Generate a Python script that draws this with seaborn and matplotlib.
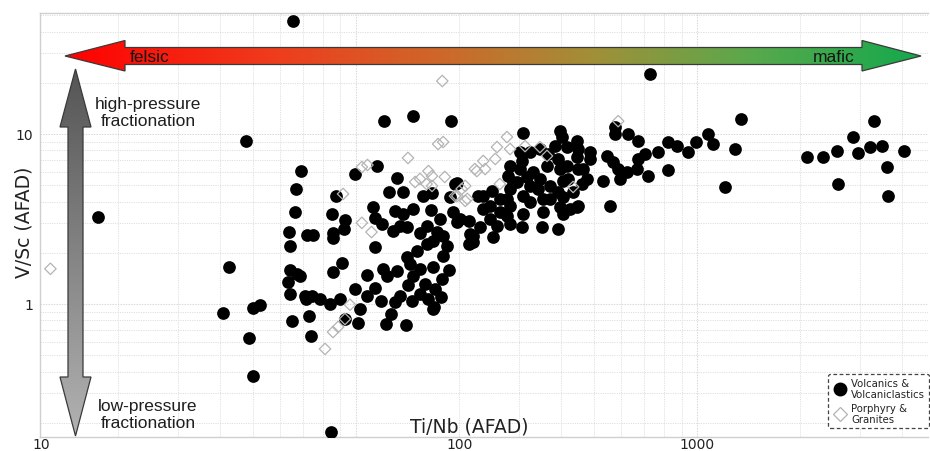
import numpy as np
import pandas as pd
import matplotlib
matplotlib.use("Agg")
import matplotlib.pyplot as plt
import matplotlib.transforms as mtransforms
from matplotlib.colors import LinearSegmentedColormap
from matplotlib.patches import Polygon
from matplotlib.lines import Line2D
from matplotlib.ticker import LogLocator, NullFormatter
import seaborn as sns

# ---------------- data ----------------
volc_tinb = [65.3, 17.5, 47.6, 42.4, 40.7, 49.9, 52.3, 48.6, 49.9, 84.5, 728,
             69.0, 66.7, 66.2, 63.6, 64.0, 71.8, 74.8, 64.0, 67.1, 68.5, 63.1, 64.0, 70.9, 74.3, 64.9, 72.8, 73.8, 71.3,
             121, 147, 190, 99.3, 115, 87.4, 85.0, 92.8, 92.2, 85.6,
             85.6, 91.0, 85.6, 112, 114, 119, 132, 125, 137, 130,
             137, 147, 157, 167, 166, 198, 193, 202, 214, 228,
             128, 135, 141, 154, 161, 173, 168, 180, 185, 161,
             151, 114, 141, 144, 154, 168, 180, 187, 220, 214,
             108, 120, 123, 132, 147,
             89.8, 92.8, 101, 103, 108, 114, 118, 122, 127, 130,
             135, 142, 146, 140, 154, 159, 163, 168, 170, 179,
             177, 169, 83.9, 78.4, 99.3,
             309, 397, 402, 575, 575, 628, 672, 545, 567, 587,
             624, 595, 667, 672, 704, 718, 769, 822, 874, 822,
             942, 994, 1077, 1114, 1208, 556, 445, 530, 486, 445,
             448, 460, 416, 405, 391, 397, 391, 351, 354, 309,
             307, 283, 252, 231, 216, 220, 198, 176, 195,
             236, 251, 264, 283, 264, 279, 283, 303, 307, 324,
             346, 366, 383, 390, 416, 448, 486, 445, 463, 476,
             419, 363, 330, 324, 297, 342, 371, 309, 324, 371,
             405, 433, 354, 283, 247, 236, 277, 448, 424, 405,
             277, 346, 317, 303, 397, 247, 259, 289, 189,
             1346, 1293, 2103, 2342, 2574, 2591, 2869, 2966, 3217, 3305, 3489, 3608, 3633, 4047]
volc_vsc = [46.2, 3.25, 9.1, 1.65, 0.886, 0.95, 0.99, 0.63, 0.377, 0.177, 22.5,
            6.05, 4.75, 3.48, 2.65, 2.20, 2.55, 2.55, 1.59, 1.50, 1.46, 1.35, 1.14, 1.11, 1.12, 0.79, 0.85, 0.65, 1.07,
            11.9, 12.8, 11.9, 5.82, 6.48, 4.32, 3.39, 3.12, 2.76, 2.62,
            2.44, 1.74, 1.54, 3.72, 3.20, 2.96, 5.51, 4.56, 4.56, 3.52,
            3.39, 3.62, 4.32, 4.50, 3.57, 5.15, 3.48, 3.16, 3.08, 4.32,
            2.69, 2.88, 2.84, 2.62, 2.88, 2.65, 2.35, 2.51, 2.20, 2.26,
            2.05, 2.17, 1.89, 1.72, 1.61, 1.65, 1.92, 1.59, 2.51, 2.26,
            1.48, 1.61, 1.46, 1.57, 1.46,
            1.07, 0.816, 0.774, 0.935, 1.11, 1.25, 1.04, 0.763, 0.874, 1.03,
            1.12, 1.29, 1.04, 0.753, 1.14, 1.31, 1.07, 0.935, 1.23, 1.40,
            1.10, 0.96, 1.00, 1.07, 1.23,
            10.1, 10.4, 9.6, 11.0, 10.0, 10.0, 9.10, 7.43, 6.84, 6.22,
            5.98, 5.44, 6.22, 7.13, 7.63, 5.66, 7.84, 8.97, 8.49, 6.14,
            7.84, 8.97, 10.0, 8.73, 4.88, 3.77, 3.72, 5.29, 7.84, 9.10,
            6.22, 5.08, 6.48, 5.29, 4.56, 3.72, 2.76, 2.84, 3.48, 3.39,
            2.84, 2.96, 2.48, 2.84, 2.58, 2.32, 3.04, 3.16, 5.08,
            4.32, 4.62, 4.15, 3.77, 3.48, 5.66, 6.48, 7.84, 6.94, 7.84,
            8.16, 7.63, 8.49, 7.13, 8.38, 8.16, 7.13, 7.33, 6.22, 5.44,
            5.44, 6.48, 5.98, 4.95, 5.22, 4.75, 4.95, 4.32, 3.99, 4.15,
            4.26, 4.56, 4.15, 4.75, 3.77, 3.62, 4.15, 3.77, 3.62, 3.39,
            3.30, 5.44, 5.59, 6.22, 6.22, 3.16, 2.88, 5.22, 4.26,
            12.2, 8.16, 7.33, 7.33, 7.94, 5.08, 9.6, 7.73, 8.38, 11.9, 8.49, 6.39, 4.32, 7.94]

porph_tinb = [12.7, 179, 587, 174, 180, 142, 104, 108, 91.6, 104, 111, 149, 154, 163, 167,
              182, 161, 167, 195, 209, 223, 209, 277, 259, 283, 256, 226, 239, 236, 264,
              363, 346, 313, 198, 212, 204, 433, 81.1, 85.6, 88.6, 92.8, 96.0]
porph_vsc = [1.61, 20.5, 11.9, 8.73, 8.97, 7.23, 6.39, 6.57, 4.44, 3.00, 2.65, 5.22, 5.44, 6.05, 5.66,
             5.59, 5.08, 4.95, 4.32, 4.95, 6.22, 4.04, 9.6, 8.38, 8.16, 7.13, 6.05, 6.22, 6.94, 5.08,
             7.43, 8.38, 8.49, 4.32, 4.15, 4.75, 4.88, 0.544, 0.684, 0.733, 0.816, 0.99]

series_names = ["Volcanics &\nVolcaniclastics", "Porphyry &\nGranites"]
x_tick_values = [100, 1000]
x_tick_labels = ["10", "100", "1000"]
x_tick_label_at = [11.96, 201.8, 1000]
y_tick_values = [1, 10]
y_tick_labels = ["1", "10"]
x_limits = (11.84, 4753)
y_limits = (0.165, 51.5)

# ---------------- styling ----------------
sns.set_theme(style="white")
plt.rcParams["font.family"] = ["DejaVu Sans"]

W, H = 930, 452
fig = plt.figure(figsize=(W / 100, H / 100), dpi=100)
fig.patch.set_facecolor("white")
L, R, T, B = 40, 928, 14, 438
ax = fig.add_axes([L / W, 1 - B / H, (R - L) / W, (B - T) / H])
ax.set_facecolor("white")

df_v = pd.DataFrame({"TiNb": volc_tinb, "VSc": volc_vsc})
df_p = pd.DataFrame({"TiNb": porph_tinb, "VSc": porph_vsc})

ax.set_xscale("log")
ax.set_yscale("log")

sns.scatterplot(data=df_v, x="TiNb", y="VSc", ax=ax, color="black", edgecolor="black",
                linewidth=0, s=84, marker="o", legend=False, zorder=3)
sns.scatterplot(data=df_p, x="TiNb", y="VSc", ax=ax, color="none", edgecolor="#b4b4b4",
                linewidth=0.9, s=34, marker="D", legend=False, zorder=4)

ax.set_xlim(*x_limits)
ax.set_ylim(*y_limits)

for axis in (ax.xaxis, ax.yaxis):
    axis.set_minor_locator(LogLocator(base=10, subs=np.arange(2, 10)))
    axis.set_minor_formatter(NullFormatter())
ax.grid(which="major", color="#d6d6d6", linestyle=(0, (1.2, 1.2)), linewidth=0.8, zorder=0)
ax.grid(which="minor", color="#e0e0e0", linestyle=(0, (1.2, 1.2)), linewidth=0.7, zorder=0)
ax.set_axisbelow(True)

ax.set_xticks(x_tick_values)
ax.set_xticklabels([""] * len(x_tick_values))
ax.set_yticks(y_tick_values)
ax.set_yticklabels(y_tick_labels)
ax.tick_params(axis="both", which="major", direction="out", length=3.5, width=0.8,
               color="#b0b0b0", labelsize=10, labelcolor="#222222", pad=1.5)
ax.tick_params(axis="both", which="minor", length=0)
ax.set_xlabel("")
ax.set_ylabel("")

blend = mtransforms.blended_transform_factory(ax.transData, ax.transAxes)
for pos, lab in zip(x_tick_label_at, x_tick_labels):
    ax.text(pos, -7.0 / (B - T), lab, transform=blend, ha="center", va="center",
            fontsize=10, color="#222222", clip_on=False)

for side in ("top", "left", "bottom"):
    ax.spines[side].set_color("#cfcfcf")
    ax.spines[side].set_linewidth(1.0)
ax.spines["right"].set_visible(False)

# ---------------- overlay (annotations in pixel space) ----------------
ov = fig.add_axes([0, 0, 1, 1], zorder=5)
ov.patch.set_alpha(0)
ov.axis("off")

# horizontal felsic -> mafic arrow
h_pts = [(65, 57), (125, 41.5), (125, 48.5), (862, 48.5), (862, 41.5), (921, 57),
         (862, 72), (862, 65.5), (125, 65.5), (125, 72)]
h_cmap = LinearSegmentedColormap.from_list(
    "fm", [(0.0, "#ff0000"), (0.25, "#ee3e1e"), (0.45, "#cc6a2a"),
           (0.62, "#a09038"), (0.8, "#5aa84c"), (1.0, "#14a94c")])
grad_h = np.linspace(0, 1, 512).reshape(1, -1)
im_h = ov.imshow(grad_h, extent=(65, 921, 72, 41.5), cmap=h_cmap, aspect="auto",
                 origin="upper", interpolation="bilinear")
poly_h = Polygon(h_pts, closed=True, facecolor="none", edgecolor="#3a3a3a", linewidth=0.9)
ov.add_patch(poly_h)
im_h.set_clip_path(poly_h)

# vertical pressure arrow
v_pts = [(75.5, 70), (91, 128), (83, 128), (83, 378), (91, 378), (75.5, 437),
         (60, 378), (68, 378), (68, 128), (60, 128)]
v_cmap = LinearSegmentedColormap.from_list("pr", ["#555555", "#b2b2b2"])
grad_v = np.linspace(0, 1, 512).reshape(-1, 1)
im_v = ov.imshow(grad_v, extent=(60, 91, 437, 70), cmap=v_cmap, aspect="auto",
                 origin="upper", interpolation="bilinear")
poly_v = Polygon(v_pts, closed=True, facecolor="none", edgecolor="#3a3a3a", linewidth=0.9)
ov.add_patch(poly_v)
im_v.set_clip_path(poly_v)

ov.set_xlim(0, W)
ov.set_ylim(H, 0)

ann_font = ["Liberation Sans", "DejaVu Sans"]
ov.text(130, 57.5, "felsic", ha="left", va="center", fontsize=12.5, family=ann_font, color="#151515")
ov.text(813, 57.5, "mafic", ha="left", va="center", fontsize=12.5, family=ann_font, color="#151515")
ov.text(148, 113, "high-pressure\nfractionation", ha="center", va="center", fontsize=12.5,
        family=ann_font, color="#1e1e1e", linespacing=1.15)
ov.text(148, 415, "low-pressure\nfractionation", ha="center", va="center", fontsize=12.5,
        family=ann_font, color="#1e1e1e", linespacing=1.15)

ov.text(469, 427, "Ti/Nb (AFAD)", ha="center", va="center", fontsize=13.5, color="#222222")
ov.text(24, 222, "V/Sc (AFAD)", ha="center", va="center", rotation=90, fontsize=13.5, color="#222222")

# ---------------- legend ----------------
handles = [
    Line2D([], [], linestyle="None", marker="o", markersize=9.0, markerfacecolor="black",
           markeredgecolor="black"),
    Line2D([], [], linestyle="None", marker="D", markersize=6.8, markerfacecolor="none",
           markeredgecolor="#b4b4b4", markeredgewidth=0.9),
]
leg = fig.legend(handles, series_names, loc="upper left",
                 bbox_to_anchor=(828 / W, 1 - 375 / H), bbox_transform=fig.transFigure,
                 fontsize=7.3, frameon=True, fancybox=True, borderpad=0.4,
                 handletextpad=0.3, labelspacing=0.4, handlelength=1.6,
                 borderaxespad=0.0)
frame = leg.get_frame()
frame.set_edgecolor("#444444")
frame.set_linestyle((0, (3, 2)))
frame.set_linewidth(0.9)
frame.set_facecolor("white")
frame.set_alpha(1)
for t in leg.get_texts():
    t.set_color("#222222")
    t.set_linespacing(1.1)

fig.savefig("out.png", dpi=100, facecolor="white")
